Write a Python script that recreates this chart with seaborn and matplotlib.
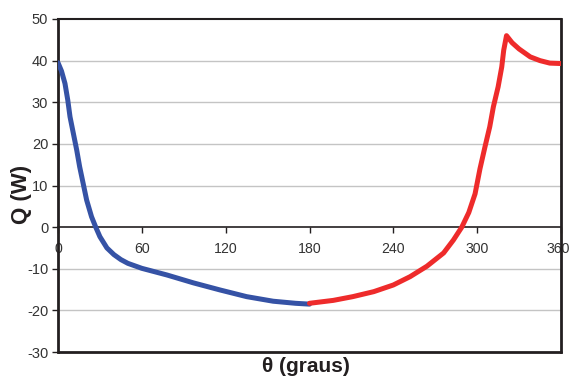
import matplotlib
matplotlib.use("Agg")
import matplotlib.pyplot as plt
import matplotlib.transforms as mtransforms
import seaborn as sns
import pandas as pd

# Data
blue_theta = [0, 2.5, 5, 7, 8.6, 11, 13.4, 15.5, 18, 20.5, 24, 27, 30, 35, 40, 45, 50, 60,
              78, 97, 116, 135, 154, 170, 180]
blue_Q = [39.5, 37.5, 34.5, 30.5, 26.5, 22.5, 18.5, 14.5, 10.5, 6.5, 2.5, 0.0, -2.3,
          -5.0, -6.6, -7.8, -8.7, -9.9, -11.5, -13.4, -15.1, -16.7, -17.8, -18.3, -18.5]
red_theta = [180, 197, 211, 226, 240, 252, 264, 276, 283, 289, 294, 298.5, 302, 305.6,
             309, 311.6, 315, 317.6, 319, 321, 325, 330, 338, 345, 352, 360]
red_Q = [-18.3, -17.6, -16.7, -15.5, -13.9, -11.9, -9.4, -6.2, -3.1, 0.0, 3.5, 8.0,
         14.0, 19.3, 24.1, 28.9, 33.7, 38.5, 42.5, 46.0, 44.3, 42.8, 40.9, 40.0, 39.4, 39.3]
x_ticks = [0, 60, 120, 180, 240, 300, 360]
y_ticks = [-30, -20, -10, 0, 10, 20, 30, 40, 50]
x_label = "θ (graus)"
y_label = "Q (W)"

sns.set_style("white")
plt.rcParams['font.family'] = ['Liberation Sans', 'DejaVu Sans']

fig = plt.figure(figsize=(5.71, 3.76), dpi=100)
ax = fig.add_axes([58/571, 1-352/376, (561-58)/571, (352-19)/376])

df_b = pd.DataFrame({"theta": blue_theta, "Q": blue_Q})
df_r = pd.DataFrame({"theta": red_theta, "Q": red_Q})
sns.lineplot(data=df_b, x="theta", y="Q", color="#3552a5", lw=3.6, ax=ax,
             sort=False, zorder=3)
sns.lineplot(data=df_r, x="theta", y="Q", color="#ee2b2b", lw=3.6, ax=ax,
             sort=False, zorder=3)

ax.set_xlim(0, 360)
ax.set_ylim(-30, 50)
ax.set_xlabel("")
ax.set_ylabel("")

for y in y_ticks:
    if y not in (0, 50, -30):
        ax.axhline(y, color="#c4c4c4", lw=1.0, zorder=1)

edge = "#231f20"
for s in ["top", "right", "left"]:
    ax.spines[s].set_color(edge)
ax.spines["left"].set_linewidth(2.0)
ax.spines["top"].set_linewidth(1.5)
ax.spines["right"].set_linewidth(2.0)
ax.spines["bottom"].set_position(("data", 0))
ax.spines["bottom"].set_color(edge)
ax.spines["bottom"].set_linewidth(1.2)
ax.axhline(-30, color=edge, lw=2.0, clip_on=False, zorder=4)

ax.set_xticks(x_ticks)
ax.set_xticklabels([str(v) for v in x_ticks], fontsize=10.2, color="#333333")
ax.set_yticks(y_ticks)
ax.set_yticklabels([str(v) for v in y_ticks], fontsize=10.5, color="#333333")
ax.tick_params(axis="x", direction="out", length=4, width=1, color=edge, pad=7, bottom=True)
ax.tick_params(axis="y", direction="out", length=4, width=1, color=edge, pad=3, left=True)

# keep the last x label inside the figure
last = ax.get_xticklabels()[-1]
last.set_transform(last.get_transform() +
                   mtransforms.ScaledTranslation(-3/100, 0, fig.dpi_scale_trans))

fig.text(306/571, 1-357/376, x_label, ha="center", va="top", fontsize=15,
         fontweight="bold", color="#231f20")
fig.text(22/571, 1-194/376, y_label, ha="center", va="center", rotation=90,
         fontsize=16, fontweight="bold", color="#231f20")

fig.savefig("out.png", dpi=100)
